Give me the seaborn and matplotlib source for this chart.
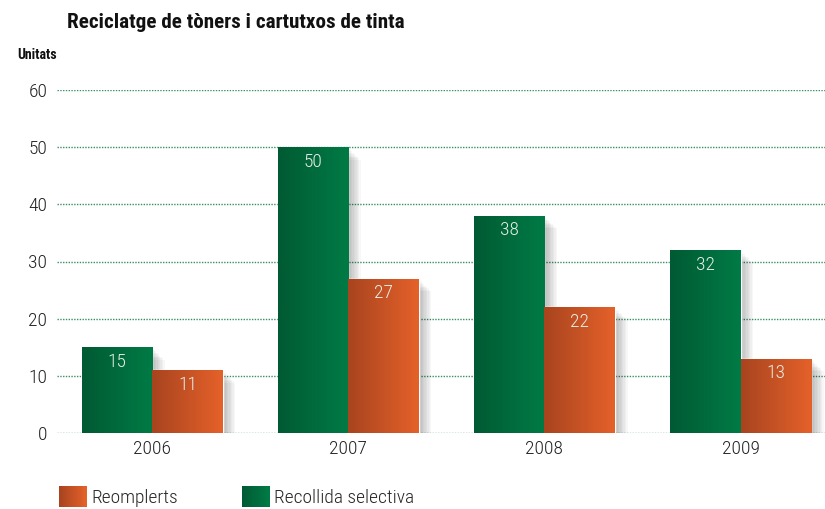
import numpy as np
import pandas as pd
import matplotlib
matplotlib.use('Agg')
import matplotlib.pyplot as plt
import matplotlib.patheffects as pe
from matplotlib.colors import LinearSegmentedColormap
from matplotlib.patches import Rectangle
from matplotlib.legend_handler import HandlerBase
import seaborn as sns

# data
years = ['2006', '2007', '2008', '2009']
recollida = [15, 50, 38, 32]
reomplerts = [11, 27, 22, 13]
series = ['Recollida selectiva', 'Reomplerts']

df = pd.DataFrame({
    'any': years * 2,
    'unitats': recollida + reomplerts,
    'tipus': [series[0]] * len(years) + [series[1]] * len(years),
})

sns.set_theme(style='white')
plt.rcParams['font.family'] = ['Roboto Condensed', 'Roboto', 'DejaVu Sans']
plt.rcParams['font.weight'] = 'light'

green_cm = LinearSegmentedColormap.from_list('g', ['#005a33', '#007b46'])
orange_cm = LinearSegmentedColormap.from_list('o', ['#a8441f', '#e5612a'])


class GradHandler(HandlerBase):
    # legend key filled with thin stripes so it shows the same gradient
    def __init__(self, cmap, n=30):
        super().__init__()
        self.cmap, self.n = cmap, n

    def create_artists(self, legend, orig_handle, xdescent, ydescent,
                       width, height, fontsize, trans):
        step = width / self.n
        return [Rectangle((-xdescent + i * step, -ydescent), step * 1.1, height,
                          facecolor=self.cmap(i / (self.n - 1)), edgecolor='none',
                          transform=trans) for i in range(self.n)]


fig = plt.figure(figsize=(8.25, 5.09), dpi=100)
ax = fig.add_axes([57 / 825, 1 - 433 / 509, 1 - 57 / 825, (433 - 90) / 509])

sns.barplot(data=df, x='any', y='unitats', hue='tipus', hue_order=series,
            palette=['#006a3c', '#c85226'], width=0.72, legend=False, ax=ax, zorder=3)

# soft drop shadow + gradient fill clipped to each bar
shadow = [pe.SimplePatchShadow(offset=(k, -k), shadow_rgbFace='black', alpha=0.03)
          for k in range(1, 10)] + [pe.Normal()]
grad = np.linspace(0, 1, 256).reshape(1, -1)
for cont, cmap in zip(ax.containers, [green_cm, orange_cm]):
    for patch in cont:
        patch.set_path_effects(shadow)
        x0, y0 = patch.get_x(), patch.get_y()
        w, h = patch.get_width(), patch.get_height()
        im = ax.imshow(grad, cmap=cmap, extent=[x0, x0 + w, y0, y0 + h],
                       aspect='auto', zorder=4, interpolation='bilinear')
        im.set_clip_path(patch)
        ax.annotate(f'{h:.0f}', (x0 + w / 2, y0 + h), xytext=(0, -4),
                    textcoords='offset points', ha='center', va='top',
                    fontsize=14, color='#e6efe6', zorder=5)

ax.set_xlim(-0.485, 3.43)
ax.set_ylim(0, 60)
ax.set_yticks(range(0, 61, 10))
ax.yaxis.grid(True, linestyle=(0, (1, 1)), color='#3a8f62', linewidth=1, zorder=0)
ax.set_axisbelow(True)
for s in ax.spines.values():
    s.set_visible(False)
ax.tick_params(axis='both', length=0, labelsize=14, colors='#222222')
ax.tick_params(axis='y', pad=7)
ax.tick_params(axis='x', pad=5)
ax.set_xlabel('')
ax.set_ylabel('')

fig.text(67 / 825, 1 - 22 / 509, 'Reciclatge de tòners i cartutxos de tinta',
         fontsize=15.2, fontweight='bold', va='center', ha='left', color='#111111')
fig.text(17 / 825, 1 - 55 / 509, 'Unitats', fontsize=10, fontweight='bold',
         va='center', ha='left', color='#111111')

h_re = Rectangle((0, 0), 1, 1)
h_rs = Rectangle((0, 0), 1, 1)
fig.legend([h_re, h_rs], ['Reomplerts', 'Recollida selectiva'], loc='lower left',
           bbox_to_anchor=(59 / 825, 2 / 509), ncol=2, frameon=False,
           borderpad=0, borderaxespad=0,
           handler_map={h_re: GradHandler(orange_cm), h_rs: GradHandler(green_cm)},
           fontsize=14, handlelength=1.45, handleheight=1.3, handletextpad=0.2,
           columnspacing=3.3)

fig.savefig('out.png', dpi=100)
